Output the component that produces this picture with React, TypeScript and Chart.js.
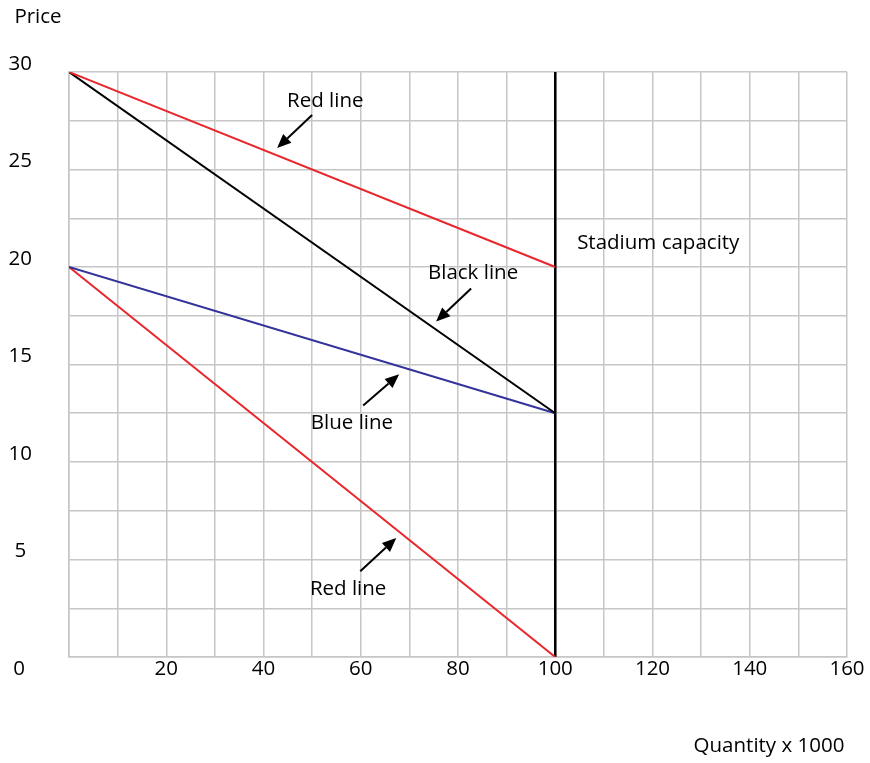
import React, { useEffect, useRef } from "react";
import { Chart, registerables } from "chart.js";

Chart.register(...registerables);

// Data
const capacityX = [100, 100];
const capacityY = [0, 30];
const redUpperX = [0, 100];
const redUpperY = [30, 20];
const blackX = [0, 100];
const blackY = [30, 12.5];
const blueX = [0, 100];
const blueY = [20, 12.5];
const redLowerX = [0, 100];
const redLowerY = [20, 0];

const xMin = 0;
const xMax = 160;
const xStep = 10;
const xLabelStep = 20;
const yMin = 0;
const yMax = 30;
const yStep = 2.5;
const yLabelStep = 5;

const xTitle = "Quantity x 1000";
const yTitle = "Price";

// Annotations: label text, label position (data), arrow start and tip (data)
const annLabels = ["Red line", "Black line", "Blue line", "Red line", "Stadium capacity"];
const annTextX = [52.7, 83.1, 58.2, 57.4, 104.5];
const annTextY = [28.5, 19.7, 12.0, 3.5, 21.2];
const annAlign = ["center", "center", "center", "center", "left"];
const arrowFromX = [50.0, 82.7, 60.5, 59.9];
const arrowFromY = [27.8, 18.9, 12.9, 4.4];
const arrowToX = [42.8, 75.5, 67.9, 67.3];
const arrowToY = [26.1, 17.2, 14.5, 6.1];

const FONT = "'Open Sans', 'DejaVu Sans', sans-serif";
const FONT_SIZE = 20.5;
const GRID = "#c6c6c6";

const zip = (xs: number[], ys: number[]) => xs.map((x, i) => ({ x, y: ys[i] }));

const annotationPlugin = {
  id: "annotations",
  afterDatasetsDraw(chart: any) {
    const { ctx, scales, chartArea } = chart;
    const xs = scales.x;
    const ys = scales.y;
    ctx.save();
    ctx.font = `${FONT_SIZE}px ${FONT}`;
    ctx.fillStyle = "#000";
    ctx.textBaseline = "middle";
    annLabels.forEach((t, i) => {
      ctx.textAlign = annAlign[i] as CanvasTextAlign;
      ctx.fillText(t, xs.getPixelForValue(annTextX[i]), ys.getPixelForValue(annTextY[i]));
    });
    // arrows
    ctx.strokeStyle = "#000";
    ctx.fillStyle = "#000";
    ctx.lineWidth = 2;
    arrowFromX.forEach((_, i) => {
      const x1 = xs.getPixelForValue(arrowFromX[i]);
      const y1 = ys.getPixelForValue(arrowFromY[i]);
      const x2 = xs.getPixelForValue(arrowToX[i]);
      const y2 = ys.getPixelForValue(arrowToY[i]);
      const ang = Math.atan2(y2 - y1, x2 - x1);
      const hl = 14;
      const hw = 6;
      const bx = x2 - hl * Math.cos(ang);
      const by = y2 - hl * Math.sin(ang);
      ctx.beginPath();
      ctx.moveTo(x1, y1);
      ctx.lineTo(bx, by);
      ctx.stroke();
      ctx.beginPath();
      ctx.moveTo(x2, y2);
      ctx.lineTo(bx + hw * Math.sin(ang), by - hw * Math.cos(ang));
      ctx.lineTo(bx - hw * Math.sin(ang), by + hw * Math.cos(ang));
      ctx.closePath();
      ctx.fill();
    });
    // titles and origin label
    ctx.fillStyle = "#000";
    ctx.textAlign = "center";
    ctx.fillText(yTitle, 38, 17);
    ctx.fillText(xTitle, chartArea.right - 78, 746);
    ctx.fillText("0", 19, chartArea.bottom + 12);
    ctx.restore();
  },
};

export default function App() {
  const ref = useRef<HTMLCanvasElement | null>(null);
  useEffect(() => {
    if (!ref.current) return;
    const line = (data: any, color: string, width: number) => ({
      data,
      borderColor: color,
      backgroundColor: color,
      borderWidth: width,
      showLine: true,
      pointRadius: 0,
      fill: false,
      tension: 0,
    });
    const chart = new Chart(ref.current, {
      type: "scatter",
      data: {
        datasets: [
          line(zip(redUpperX, redUpperY), "#e8262c", 2),
          line(zip(blackX, blackY), "#000000", 2),
          line(zip(blueX, blueY), "#33339a", 2),
          line(zip(redLowerX, redLowerY), "#e8262c", 2),
          line(zip(capacityX, capacityY), "#000000", 2.5),
        ],
      },
      options: {
        animation: false,
        responsive: false,
        layout: { padding: { left: 0, top: 72, right: 23, bottom: 0 } },
        plugins: { legend: { display: false }, tooltip: { enabled: false } },
        scales: {
          x: {
            type: "linear",
            min: xMin,
            max: xMax,
            grid: { color: GRID, lineWidth: 1.5, drawTicks: false },
            border: { color: GRID, width: 1.5 },
            afterFit: (s: any) => { s.height = 106; },
            ticks: {
              stepSize: xStep,
              autoSkip: false,
              maxRotation: 0,
              padding: 0,
              color: "#000",
              font: { family: FONT, size: FONT_SIZE },
              callback: (v: any) => (v % xLabelStep === 0 && v !== 0 ? String(v) : ""),
            },
          },
          y: {
            type: "linear",
            min: yMin,
            max: yMax,
            grid: { color: GRID, lineWidth: 1.5, drawTicks: false },
            border: { color: GRID, width: 1.5 },
            afterFit: (s: any) => { s.width = 69; },
            ticks: {
              stepSize: yStep,
              autoSkip: false,
              padding: 37,
              crossAlign: "center",
              labelOffset: -8,
              color: "#000",
              font: { family: FONT, size: FONT_SIZE },
              callback: (v: any) => (v % yLabelStep === 0 && v !== 0 ? String(v) : ""),
            },
          },
        },
      },
      plugins: [annotationPlugin],
    } as any);
    return () => chart.destroy();
  }, []);
  return (
    <div style={{ position: "absolute", left: 0, top: 0, width: 870, height: 763, background: "#fff" }}>
      <canvas ref={ref} width={870} height={763} style={{ display: "block" }} />
    </div>
  );
}
